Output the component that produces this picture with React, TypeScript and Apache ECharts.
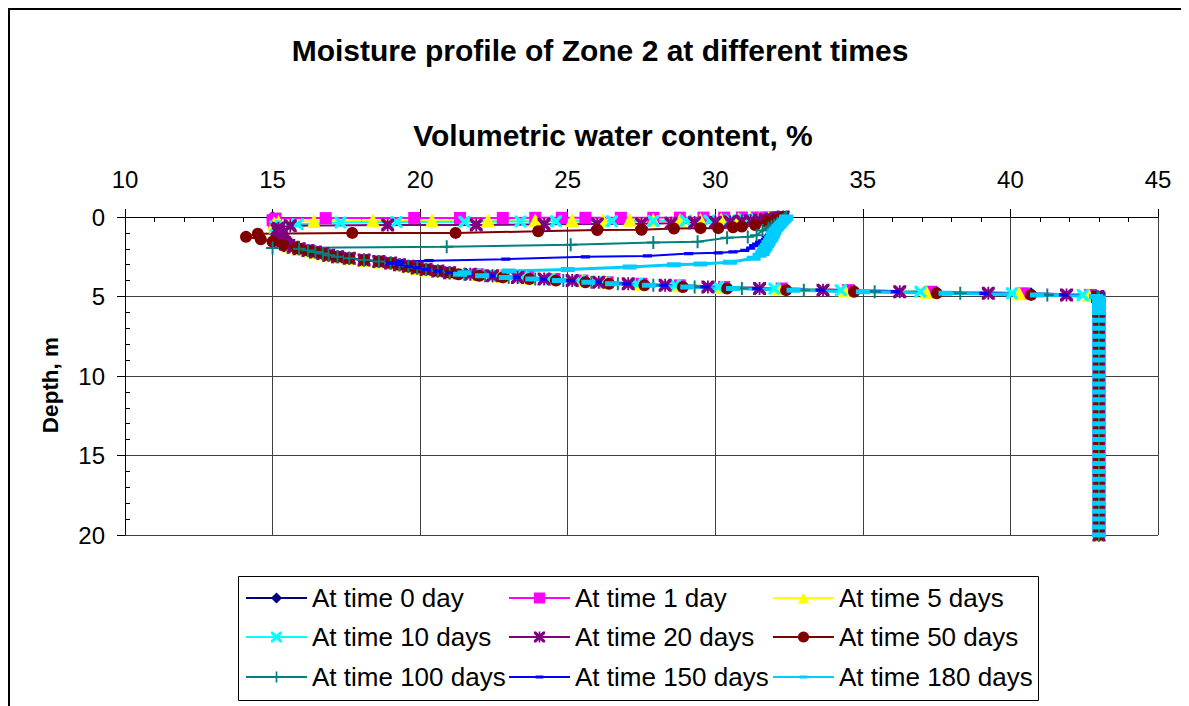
import React, { useEffect, useRef } from "react";
import * as echarts from "echarts";

// ---------- data ----------
const SERIES_NAMES = [
  "At time 0 day",
  "At time 1 day",
  "At time 5 days",
  "At time 10 days",
  "At time 20 days",
  "At time 50 days",
  "At time 100 days",
  "At time 150 days",
  "At time 180 days",
];

// initial (time 0) profile, upper part: node depths (m) and water content (%)
const UPPER_DEPTH = [
  0, 0.1, 0.2, 0.3, 0.4, 0.5, 0.6, 0.7, 0.8, 0.9,
  1.0, 1.1, 1.2, 1.3, 1.4, 1.5, 1.6, 1.7, 1.8, 1.9,
  2.0, 2.1, 2.2, 2.3, 2.4, 2.5, 2.6, 2.7, 2.8, 2.9,
  3.0, 3.1, 3.2, 3.3, 3.4, 3.5,
];
const UPPER_THETA = [
  15.0, 15.0, 15.0, 15.05, 15.05, 15.1, 15.1, 15.15, 15.15, 15.2,
  15.2, 15.25, 15.25, 15.3, 15.3, 15.35, 15.4, 15.45, 15.55, 15.7,
  15.9, 16.2, 16.45, 16.7, 16.9, 17.2, 17.6, 18.1, 18.6, 19.0,
  19.3, 19.6, 19.9, 20.2, 20.6, 21.0,
];

// transition zone above the water table: depths and per-series water content
const BAND_DEPTH = [3.6, 3.7, 3.8, 3.9, 4.0, 4.1, 4.2, 4.3, 4.4, 4.5, 4.6, 4.7, 4.8, 4.9, 5.0];
const BAND_0 = [22.0, 22.8, 23.7, 24.6, 25.6, 26.4, 27.6, 28.9, 30.4, 32.4, 34.7, 37.5, 40.7, 42.9, 43.0];
const BAND_1 = [21.95, 22.75, 23.65, 24.55, 25.5, 26.35, 27.5, 28.8, 30.3, 32.25, 34.5, 37.3, 40.45, 42.7, 43.0];
const BAND_5 = [21.9, 22.7, 23.6, 24.5, 25.5, 26.3, 27.45, 28.75, 30.2, 32.15, 34.4, 37.15, 40.3, 42.65, 43.0];
const BAND_10 = [21.85, 22.65, 23.5, 24.4, 25.4, 26.25, 27.35, 28.65, 30.1, 32.0, 34.25, 36.95, 40.05, 42.45, 43.0];
const BAND_20 = [21.7, 22.45, 23.3, 24.2, 25.15, 26.05, 27.05, 28.3, 29.75, 31.5, 33.65, 36.25, 39.25, 41.9, 42.95];
const BAND_50 = [21.3, 22.0, 22.8, 23.7, 24.6, 25.6, 26.4, 27.6, 28.9, 30.4, 32.4, 34.7, 37.5, 40.7, 42.9];
const BAND_100 = [21.5, 22.2, 23.0, 23.9, 24.85, 25.8, 26.7, 27.9, 29.3, 30.9, 33.0, 35.4, 38.3, 41.25, 42.95];
const BAND_150 = [21.65, 22.4, 23.25, 24.15, 25.1, 26.0, 27.0, 28.25, 29.65, 31.4, 33.55, 36.1, 39.1, 41.8, 42.95];
const BAND_180 = [21.35, 22.1, 22.9, 23.8, 24.7, 25.7, 26.5, 27.75, 29.05, 30.6, 32.65, 35.0, 37.8, 40.9, 42.9];

// saturated zone below the water table
const DEEP_DEPTH = [
  5.1, 5.2, 5.3, 5.4, 5.5, 5.6, 5.7, 5.8, 5.9, 6.0,
  6.5, 7.0, 7.5, 8.0, 8.5, 9.0, 9.5, 10.0, 10.5, 11.0, 11.5, 12.0,
  12.5, 13.0, 13.5, 14.0, 14.5, 15.0, 15.5, 16.0, 16.5, 17.0, 17.5,
  18.0, 18.5, 19.0, 19.5, 20.0,
];
const DEEP_THETA = [
  43.0, 43.0, 43.0, 43.0, 43.0, 43.0, 43.0, 43.0, 43.0, 43.0,
  43.0, 43.0, 43.0, 43.0, 43.0, 43.0, 43.0, 43.0, 43.0, 43.0, 43.0, 43.0,
  43.0, 43.0, 43.0, 43.0, 43.0, 43.0, 43.0, 43.0, 43.0, 43.0, 43.0,
  43.0, 43.0, 43.0, 43.0, 43.0,
];

// wetted upper parts of the later profiles: [water content %, depth m]
const FRONT_0: number[][] = [];
const JOIN_0 = -1;
const FRONT_1 = [
  [32.3, 0], [32.1, 0.01], [31.8, 0.02], [31.4, 0.03], [30.9, 0.03], [30.3, 0.04],
  [29.6, 0.04], [28.8, 0.04], [27.9, 0.05], [26.8, 0.05], [25.6, 0.05], [24.8, 0.05],
  [23.9, 0.05], [22.8, 0.06], [21.35, 0.06], [19.8, 0.06], [16.8, 0.07], [15.1, 0.1],
];
const JOIN_1 = 0.1;
const FRONT_5 = [
  [32.3, 0], [32.2, 0.02], [32.0, 0.04], [31.8, 0.06], [31.5, 0.08], [31.2, 0.1],
  [30.8, 0.12], [30.2, 0.14], [29.5, 0.16], [28.8, 0.17], [27.9, 0.18], [27.1, 0.18],
  [26.2, 0.19], [25.15, 0.19], [23.9, 0.2], [22.3, 0.2], [20.4, 0.2], [18.4, 0.2],
  [16.4, 0.25], [15.2, 0.3],
];
const JOIN_5 = 0.3;
const FRONT_10 = [
  [32.3, 0], [32.2, 0.03], [32.1, 0.06], [31.9, 0.09], [31.7, 0.12], [31.4, 0.15],
  [31.0, 0.18], [30.5, 0.2], [29.8, 0.22], [29.0, 0.24], [27.9, 0.25], [26.5, 0.26],
  [24.6, 0.27], [23.4, 0.28], [21.5, 0.3], [19.2, 0.32], [17.3, 0.35], [15.85, 0.45],
  [15.3, 0.55],
];
const JOIN_10 = 0.55;
const FRONT_20 = [
  [32.3, 0], [32.2, 0.04], [32.1, 0.08], [31.9, 0.12], [31.7, 0.16], [31.5, 0.2],
  [31.2, 0.24], [30.9, 0.27], [30.5, 0.3], [30.0, 0.33], [29.3, 0.36], [28.5, 0.4],
  [27.5, 0.42], [26.0, 0.44], [24.2, 0.46], [21.9, 0.5], [18.9, 0.5], [15.6, 0.55],
  [15.2, 0.7],
];
const JOIN_20 = 0.75;
const FRONT_50 = [
  [32.3, 0], [32.2, 0.1], [32.0, 0.2], [31.75, 0.3], [31.35, 0.5], [30.9, 0.6],
  [30.6, 0.65], [30.1, 0.7], [29.5, 0.7], [28.6, 0.72], [27.5, 0.8], [26.0, 0.82],
  [24.0, 0.9], [21.2, 1.0], [17.7, 1.0], [14.5, 1.05], [14.1, 1.25], [14.6, 1.4],
  [15.0, 1.55], [15.35, 1.76], [15.8, 1.95],
];
const JOIN_50 = 1.95;
const FRONT_100 = [
  [32.4, 0], [32.35, 0.1], [32.3, 0.2], [32.2, 0.3], [32.1, 0.4], [32.0, 0.5],
  [31.9, 0.6], [31.8, 0.7], [31.6, 0.85], [31.4, 1.15], [31.1, 1.25], [30.4, 1.3],
  [29.4, 1.55], [27.9, 1.6], [25.1, 1.75], [20.9, 1.87], [15.0, 1.95],
];
const JOIN_100 = 1.95;
const FRONT_150 = [
  [32.4, 0], [32.35, 0.1], [32.3, 0.2], [32.25, 0.3], [32.2, 0.4], [32.15, 0.5],
  [32.1, 0.6], [32.05, 0.7], [32.0, 0.8], [31.95, 0.9], [31.9, 1.0], [31.85, 1.1],
  [31.8, 1.2], [31.75, 1.3], [31.7, 1.4], [31.6, 1.5], [31.5, 1.6], [31.4, 1.7],
  [31.3, 1.8], [31.2, 1.95], [31.0, 2.1], [30.6, 2.2], [30.1, 2.25], [29.1, 2.3],
  [27.7, 2.45], [25.6, 2.5], [22.9, 2.65], [20.3, 2.75], [19.3, 2.8],
];
const JOIN_150 = 2.8;
const FRONT_180 = [
  [32.4, 0], [32.4, 0.1], [32.35, 0.2], [32.3, 0.3], [32.25, 0.4], [32.2, 0.5],
  [32.15, 0.6], [32.1, 0.7], [32.05, 0.8], [32.0, 0.9], [32.0, 1.0], [31.95, 1.1],
  [31.95, 1.2], [31.9, 1.3], [31.9, 1.4], [31.85, 1.5], [31.8, 1.6], [31.8, 1.7],
  [31.75, 1.8], [31.7, 1.9], [31.7, 2.0], [31.65, 2.1], [31.6, 2.2], [31.6, 2.3],
  [31.5, 2.4], [31.3, 2.6], [30.5, 2.85], [29.5, 2.95], [28.6, 3.0], [27.1, 3.15],
  [25.0, 3.3], [23.0, 3.4], [21.5, 3.5],
];
const JOIN_180 = 3.5;

const FRONTS = [FRONT_0, FRONT_1, FRONT_5, FRONT_10, FRONT_20, FRONT_50, FRONT_100, FRONT_150, FRONT_180];
const JOINS = [JOIN_0, JOIN_1, JOIN_5, JOIN_10, JOIN_20, JOIN_50, JOIN_100, JOIN_150, JOIN_180];
const BANDS = [BAND_0, BAND_1, BAND_5, BAND_10, BAND_20, BAND_50, BAND_100, BAND_150, BAND_180];

// ---------- styles ----------
const FONT = '"Liberation Sans", Arial, Helvetica, sans-serif';
const COLORS = ["#000080", "#FF00FF", "#FFFF00", "#00FFFF", "#800080", "#800000", "#008080", "#0000FF", "#00CCFF"];
const SYM_X =
  "path://M0,0 L4,0 L10,6 L16,0 L20,0 L20,4 L14,10 L20,16 L20,20 L16,20 L10,14 L4,20 L0,20 L0,16 L6,10 L0,4 Z";
const SYM_STAR =
  "path://M0,0 L4,0 L10,6 L16,0 L20,0 L20,4 L14,10 L20,16 L20,20 L16,20 L10,14 L4,20 L0,20 L0,16 L6,10 L0,4 Z M8.6,0 L11.4,0 L11.4,20 L8.6,20 Z";
const SYM_PLUS =
  "path://M8.5,0 L11.5,0 L11.5,8.5 L20,8.5 L20,11.5 L11.5,11.5 L11.5,20 L8.5,20 L8.5,11.5 L0,11.5 L0,8.5 L8.5,8.5 Z";
const SYM_DASH =
  "path://M0,0 L0.01,0 L0,0.01 Z M20,20 L19.99,20 L20,19.99 Z M3,7.5 L17,7.5 L17,12.5 L3,12.5 Z";
const SYMBOLS = ["diamond", "rect", "triangle", SYM_X, SYM_STAR, "circle", SYM_PLUS, SYM_DASH, SYM_DASH];
const SYMBOL_SIZES = [12, 12, 14, 12, 13, 12, 13, 13, 20];
const LINE_WIDTHS = [2, 2, 2, 2, 2, 2, 2, 2, 3];

const LEGEND_COL_X = [237, 500, 764];
const LEGEND_ROW_TOP = [577, 616, 656];

function profile(front: number[][], join: number, band: number[]): number[][] {
  const pts: number[][] = front.slice();
  UPPER_DEPTH.forEach((d, i) => {
    if (d > join + 1e-9) pts.push([UPPER_THETA[i], d]);
  });
  BAND_DEPTH.forEach((d, i) => pts.push([band[i], d]));
  DEEP_DEPTH.forEach((d, i) => pts.push([DEEP_THETA[i], d]));
  return pts;
}

export default function App() {
  const ref = useRef<HTMLDivElement>(null);
  useEffect(() => {
    document.body.style.overflow = "hidden";
    const chart = echarts.init(ref.current!, null, { renderer: "svg" });
    const series = SERIES_NAMES.map((name, i) => ({
      type: "line",
      name,
      data: profile(FRONTS[i], JOINS[i], BANDS[i]),
      symbol: SYMBOLS[i],
      symbolSize: SYMBOL_SIZES[i],
      showSymbol: true,
      showAllSymbol: true,
      itemStyle: { color: COLORS[i], opacity: 1 },
      lineStyle: { color: COLORS[i], width: LINE_WIDTHS[i] },
      emphasis: { disabled: true },
    }));
    const legends = SERIES_NAMES.map((name, i) => ({
      data: [name],
      left: LEGEND_COL_X[i % 3],
      top: LEGEND_ROW_TOP[Math.floor(i / 3)],
      padding: 0,
      itemWidth: 61,
      itemHeight: 14,
      selectedMode: false,
      textStyle: { fontSize: 26, color: "#000", fontFamily: FONT },
    }));
    chart.setOption({
      animation: false,
      backgroundColor: "#fff",
      grid: { left: 117, top: 209, width: 1033, height: 318, show: false },
      xAxis: {
        type: "value",
        position: "top",
        min: 10,
        max: 45,
        interval: 5,
        axisLine: { show: true, onZero: false, lineStyle: { color: "#000", width: 1 } },
        axisTick: { show: true, inside: false, length: 8, lineStyle: { color: "#000" } },
        minorTick: { show: true, splitNumber: 5, length: -5, lineStyle: { color: "#000" } },
        axisLabel: { fontSize: 24, color: "#000", fontFamily: FONT, margin: 26 },
        splitLine: { show: true, lineStyle: { color: "#404040", width: 1 } },
      },
      yAxis: {
        type: "value",
        inverse: true,
        min: 0,
        max: 20,
        interval: 5,
        axisLine: { show: true, onZero: false, lineStyle: { color: "#000", width: 1 } },
        axisTick: { show: true, inside: false, length: 8, lineStyle: { color: "#000" } },
        minorTick: { show: true, splitNumber: 5, length: -5, lineStyle: { color: "#000" } },
        axisLabel: { fontSize: 24, color: "#000", fontFamily: FONT, margin: 20 },
        splitLine: { show: true, lineStyle: { color: "#404040", width: 1 } },
      },
      legend: legends,
      graphic: [
        {
          type: "rect",
          shape: { x: 1, y: 1, width: 1400, height: 900 },
          style: { fill: "none", stroke: "#000", lineWidth: 2 },
          silent: true,
        },
        {
          type: "rect",
          shape: { x: 230.5, y: 568.5, width: 800, height: 124 },
          style: { fill: "none", stroke: "#000", lineWidth: 1 },
          silent: true,
          z: -1,
        },
        {
          type: "text",
          x: 592,
          y: 42,
          style: {
            text: "Moisture profile of Zone 2 at different times",
            fontSize: 30,
            fontWeight: "bold",
            fontFamily: FONT,
            fill: "#000",
            textAlign: "center",
            textVerticalAlign: "middle",
          },
        },
        {
          type: "text",
          x: 605,
          y: 127,
          style: {
            text: "Volumetric water content, %",
            fontSize: 30,
            fontWeight: "bold",
            fontFamily: FONT,
            fill: "#000",
            textAlign: "center",
            textVerticalAlign: "middle",
          },
        },
        {
          type: "text",
          x: 42,
          y: 377,
          rotation: Math.PI / 2,
          style: {
            text: "Depth, m",
            fontSize: 22.5,
            fontWeight: "bold",
            fontFamily: FONT,
            fill: "#000",
            textAlign: "center",
            textVerticalAlign: "middle",
          },
        },
      ],
      series,
    });
    return () => chart.dispose();
  }, []);
  return <div ref={ref} style={{ width: 1181, height: 698 }} />;
}
